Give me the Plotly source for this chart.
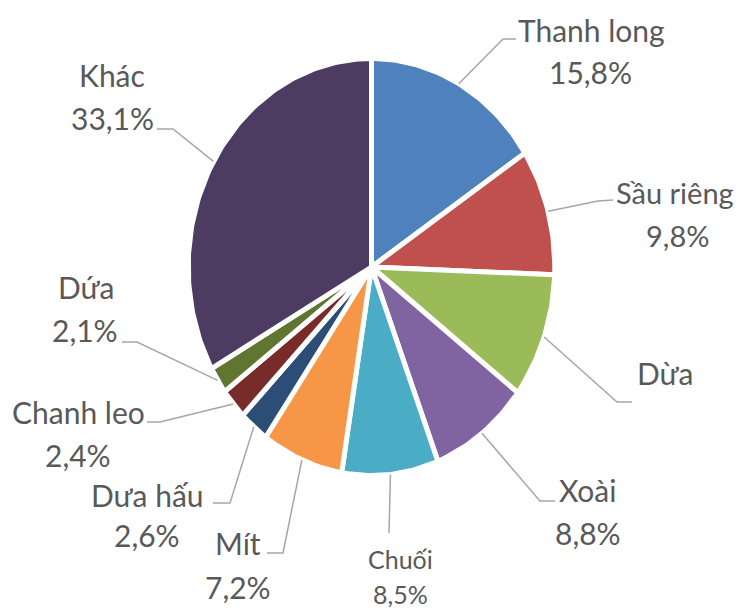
import math
import plotly.graph_objects as go

# ---- data ----
categories = ["Thanh long", "Sầu riêng", "Dừa", "Xoài", "Chuối", "Mít",
              "Dưa hấu", "Chanh leo", "Dứa", "Khác"]
shares = [15.8, 9.8, 9.7, 8.8, 8.5, 7.2, 2.6, 2.4, 2.1, 33.1]
show_value = [True, True, False, True, True, True, True, True, True, True]

# ---- styles ----
colors = ["#4F81BD", "#C0504D", "#9BBB59", "#8064A2", "#4BACC6", "#F79646",
          "#2C4D75", "#772C2A", "#5F7530", "#4D3B62"]
FONT = "Lato, Liberation Sans, Arial"
TEXT_COLOR = "#595959"
LINE_COLOR = "#A6A6A6"
PAGE_OFF = 8               # default page body margin (px)
W, H = 744 - PAGE_OFF, 608 - PAGE_OFF
CX, CY = 371.5, 267.0      # pie centre (page px)
RX, RY = 183.3, 208.5      # pie radii (px)

# label layout (page px): elbow, line end, name centre, value centre, font size
label_layout = [
    dict(elbow=(503, 39), end=(516, 39), name=(591, 30), value=(590, 72), size=30),
    dict(elbow=(598, 201), end=(613, 200), name=(675, 192), value=(677, 235), size=29),
    dict(elbow=(617, 402), end=(632, 402), name=(665, 373), value=None, size=30),
    dict(elbow=(540, 501), end=(555, 501), name=(587, 490), value=(588, 533), size=30),
    dict(elbow=(389, 533), end=(389, 533), name=(400, 559), value=(400, 594), size=25),
    dict(elbow=(283, 553), end=(267, 553), name=(238, 543), value=(238, 587), size=30),
    dict(elbow=(230, 503), end=(213, 503), name=(147, 495), value=(147, 535), size=30),
    dict(elbow=(160, 422), end=(147, 422), name=(78, 412), value=(78, 455), size=30),
    dict(elbow=(137, 342), end=(122, 342), name=(86, 287), value=(85, 330), size=30),
    dict(elbow=(173, 129), end=(157, 129), name=(112, 75), value=(112, 118), size=30),
]

# figure-pixel frame (page px minus body margin)
FCX, FCY = CX - PAGE_OFF, CY - PAGE_OFF


def px2d(p):
    return ((p[0] - PAGE_OFF - FCX) / RX, (FCY - (p[1] - PAGE_OFF)) / RY)


fig = go.Figure()
total = sum(shares)
cum = 0.0
for cat, val, col in zip(categories, shares, colors):
    a0 = cum / total * 2 * math.pi
    a1 = (cum + val) / total * 2 * math.pi
    n = max(8, int((a1 - a0) / (2 * math.pi) * 360))
    xs, ys = [0.0], [0.0]
    for k in range(n + 1):
        a = a0 + (a1 - a0) * k / n
        xs.append(math.sin(a))
        ys.append(math.cos(a))
    xs.append(0.0)
    ys.append(0.0)
    fig.add_trace(go.Scatter(x=xs, y=ys, mode="lines", fill="toself",
                             fillcolor=col, line=dict(color="white", width=5),
                             name=cat, hoverinfo="name", showlegend=False))
    cum += val

# leader lines + labels
cum = 0.0
annotations = []
for cat, val, show, lay in zip(categories, shares, show_value, label_layout):
    am = (cum + val / 2) / total * 2 * math.pi
    cum += val
    sx, sy = math.sin(am) * 1.0, math.cos(am) * 1.0
    ex, ey = px2d(lay["elbow"])
    tx, ty = px2d(lay["end"])
    fig.add_trace(go.Scatter(x=[sx, ex, tx], y=[sy, ey, ty], mode="lines",
                             line=dict(color=LINE_COLOR, width=1.5),
                             hoverinfo="skip", showlegend=False))
    nx, ny = px2d(lay["name"])
    annotations.append(dict(x=nx, y=ny, text=cat, showarrow=False,
                            xanchor="center", yanchor="middle",
                            font=dict(family=FONT, size=lay["size"], color=TEXT_COLOR)))
    if show and lay["value"] is not None:
        vx, vy = px2d(lay["value"])
        txt = f"{val:.1f}".replace(".", ",") + "%"
        annotations.append(dict(x=vx, y=vy, text=txt, showarrow=False,
                                xanchor="center", yanchor="middle",
                                font=dict(family=FONT, size=lay["size"], color=TEXT_COLOR)))

fig.update_layout(
    width=W, height=H,
    margin=dict(l=0, r=0, t=0, b=0),
    paper_bgcolor="white", plot_bgcolor="white",
    xaxis=dict(range=[-FCX / RX, (W - FCX) / RX], visible=False, fixedrange=True),
    yaxis=dict(range=[-(H - FCY) / RY, FCY / RY], visible=False, fixedrange=True),
    annotations=annotations,
    showlegend=False,
)

fig.write_html("out.html")
